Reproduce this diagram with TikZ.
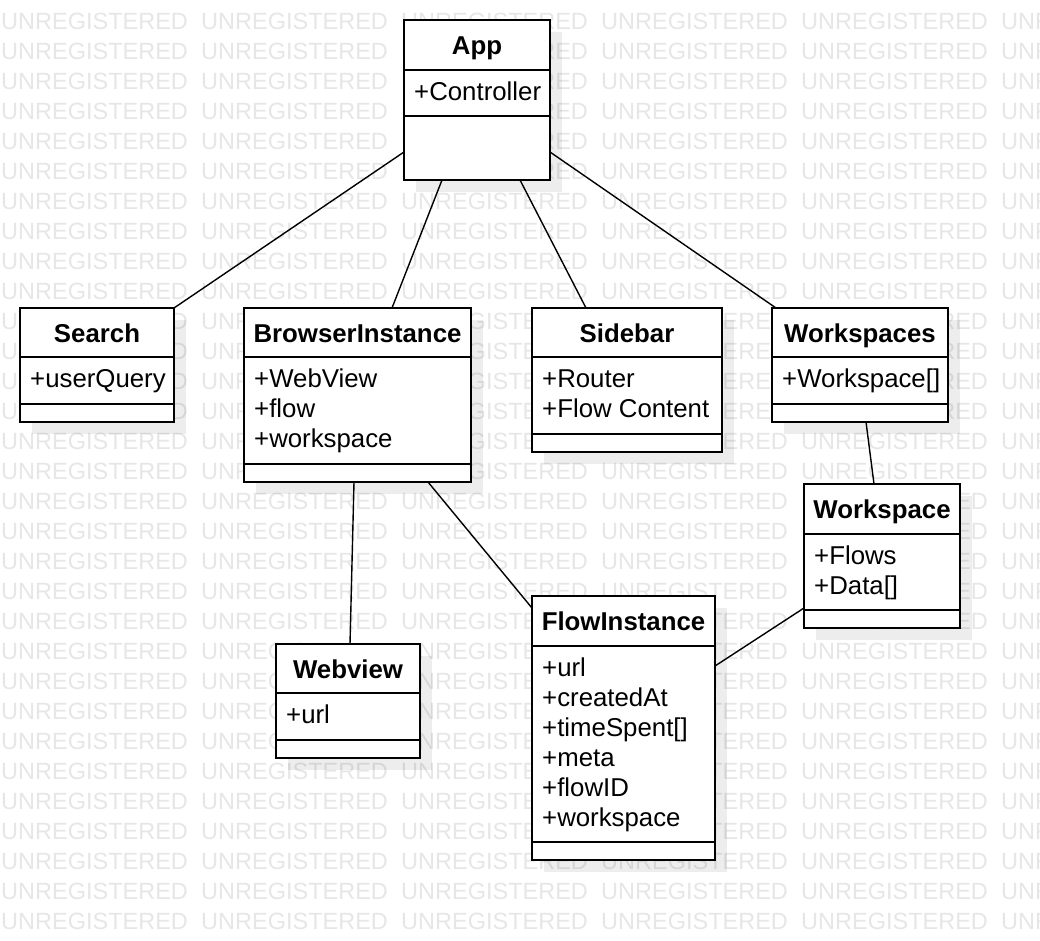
\documentclass[tikz,border=0pt]{standalone}
\usepackage{fontspec}
\setmainfont{Liberation Sans}

\definecolor{wmgray}{HTML}{E6E6E6}

\tikzset{
  classbox/.style={draw, fill=white, line width=1.8pt, inner sep=0pt, outer sep=0pt},
  classline/.style={line width=1.8pt},
  classtitle/.style={anchor=base, inner sep=0pt, font=\bfseries\fontsize{25.8}{30}\selectfont},
  classattr/.style={anchor=base west, inner sep=0pt, font=\fontsize{25.8}{30}\selectfont},
  assoc/.style={line width=1.4pt},
  shadow/.style={fill=black, opacity=0.07},
  watermark/.style={anchor=base west, inner sep=0pt, text=wmgray, font=\fontsize{23.5}{24}\selectfont}
}

% #1 name, #2 left, #3 top, #4 right, #5 bottom, #6 header line, #7 operations line, #8 title, #9 attributes
\newcommand{\umlclass}[9]{%
  \fill[shadow] (#2+12,#3+12) rectangle (#4+12,#5+12);
  \node[classbox, minimum width={#4-#2}, minimum height={#5-#3}, anchor=north west] (#1) at (#2,#3) {};
  \draw[classline] (#2,#6) -- (#4,#6);
  \draw[classline] (#2,#7) -- (#4,#7);
  \node[classtitle] (#1-title) at ({(#2+#4)/2},#3+34) {#8};
  \foreach \attr [count=\i] in {#9}
    \node[classattr] (#1-attr\i) at (#2+10,#6+\i*30) {\attr};
}

\begin{document}
\begin{tikzpicture}[x=1pt,y=-1pt]

  \useasboundingbox (0,0) rectangle (1040,940);
  \clip (0,0) rectangle (1040,940);

  % Watermark
  \foreach \row in {0,...,30}
    \foreach \col in {0,...,5}
      \node[watermark] at (1+\col*200,29+\row*30) {UNREGISTERED};

  % Classes
  \umlclass{app}{404}{20}{550}{180}{70}{116}{App}{+Controller}
  \umlclass{search}{20}{308}{174}{422}{357}{404}{Search}{+userQuery}
  \umlclass{browser}{244}{308}{471}{482}{357}{464}{BrowserInstance}{+WebView,+flow,+workspace}
  \umlclass{sidebar}{532}{308}{722}{452}{357}{434}{Sidebar}{+Router,+Flow Content}
  \umlclass{workspaces}{772}{308}{948}{422}{357}{404}{Workspaces}{+Workspace[]}
  \umlclass{workspace}{804}{484}{960}{628}{534}{610}{Workspace}{+Flows,+Data[]}
  \umlclass{webview}{276}{644}{420}{758}{693}{740}{Webview}{+url}
  \umlclass{flow}{532}{596}{715}{860}{646}{842}{FlowInstance}{+url,+createdAt,+timeSpent[],+meta,+flowID,+workspace}

  % Associations
  \draw[assoc] ([yshift=-52pt]app.west) -- (search.north east);
  \draw[assoc] ([xshift=-35pt]app.south) -- ([xshift=34.5pt]browser.north);
  \draw[assoc] ([xshift=43pt]app.south) -- ([xshift=-41pt]sidebar.north);
  \draw[assoc] ([yshift=-52pt]app.east) -- ([xshift=4pt]workspaces.north west);
  \draw[assoc] ([xshift=6pt]workspaces.south) -- ([xshift=-8pt]workspace.north);
  \draw[assoc] ([xshift=-3.5pt]browser.south) -- ([xshift=2pt]webview.north);
  \draw[assoc] ([xshift=70.5pt]browser.south) -- ([yshift=-12pt]flow.north west);
  \draw[assoc] ([yshift=20pt]workspace.south west) -- ([yshift=-70pt]flow.north east);

\end{tikzpicture}
\end{document}
